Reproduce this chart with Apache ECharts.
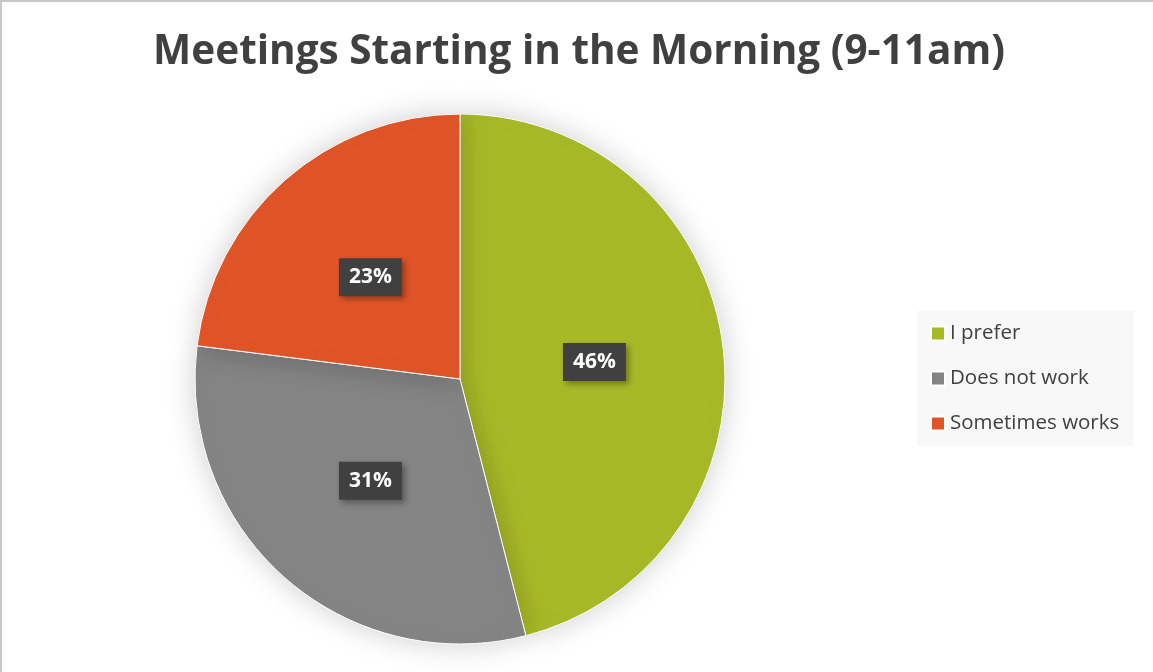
<!DOCTYPE html>
<html>
<head>
<meta charset="utf-8">
<script src="https://cdn.jsdelivr.net/npm/echarts@6/dist/echarts.min.js"></script>
<style>
  html, body { margin: 0; padding: 0; background: #fff; }
  #main { position: absolute; left: 0; top: 0; width: 1151px; height: 670px;
          border-left: 2px solid #c8c8c8; border-top: 2px solid #c8c8c8; }
</style>
</head>
<body>
<div id="main"></div>
<script>
  // data
  var categories = ['I prefer', 'Does not work', 'Sometimes works'];
  var values = [46, 31, 23];
  var colors = ['#a8b928', '#848484', '#e05527'];

  var chart = echarts.init(document.getElementById('main'));

  var pieData = categories.map(function (name, i) {
    return { name: name, value: values[i], itemStyle: { color: colors[i] } };
  });

  var option = {
    animation: false,
    title: {
      text: 'Meetings Starting in the Morning (9-11am)',
      left: 572,
      top: 25,
      textAlign: 'center',
      textStyle: {
        color: '#404040',
        fontFamily: 'Open Sans',
        fontWeight: 'bold',
        fontSize: 40.5
      }
    },
    legend: {
      orient: 'vertical',
      left: 915,
      top: 309,
      padding: [12, 14, 12, 13],
      backgroundColor: '#f8f8f8',
      itemWidth: 14,
      itemHeight: 14,
      itemGap: 24,
      icon: 'rect',
      textStyle: { color: '#404040', fontFamily: 'Open Sans', fontSize: 20.5 },
      data: categories
    },
    series: [{
      type: 'pie',
      center: [458, 377],
      radius: 265,
      startAngle: 90,
      clockwise: true,
      data: pieData,
      itemStyle: {
        borderColor: '#fff',
        borderWidth: 1,
        shadowBlur: 30,
        shadowColor: 'rgba(0,0,0,0.2)'
      },
      label: {
        show: true,
        position: 'inside',
        formatter: '{c}%',
        color: '#fff',
        fontFamily: 'Open Sans',
        fontWeight: 'bold',
        fontSize: 21,
        backgroundColor: '#404040',
        padding: [9, 10, 8, 10],
        shadowBlur: 6,
        shadowOffsetX: 3,
        shadowOffsetY: 3,
        shadowColor: 'rgba(0,0,0,0.35)'
      },
      labelLine: { show: false },
      emphasis: { disabled: true }
    }]
  };

  chart.setOption(option);
</script>
</body>
</html>
